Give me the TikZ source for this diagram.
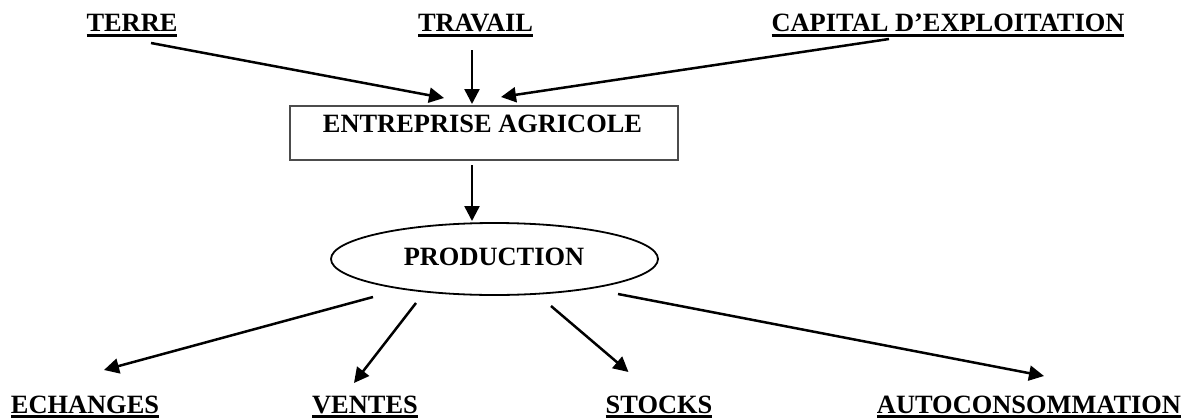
\documentclass[tikz,border=0pt]{standalone}
\usepackage{fontspec}
\setmainfont{Liberation Serif}
\usetikzlibrary{arrows.meta,shapes.geometric}
\newcommand\ulbox[1]{\sbox0{#1}\rlap{\rule[-4.8pt]{\wd0}{2.4pt}}\usebox0}
\begin{document}
\begin{tikzpicture}[x=1pt,y=-1pt,
  lbl/.style={inner sep=0pt, anchor=base, font=\bfseries\fontsize{26.4}{30}\selectfont},
  arr/.style={line width=2.5pt, -{Triangle[length=15pt,width=15pt]}},
  boxst/.style={draw=black!70, line width=2pt, minimum width=388pt, minimum height=54pt, inner sep=0pt},
  ellst/.style={ellipse, draw=black, line width=1.8pt, minimum width=327pt, minimum height=72pt, inner sep=0pt}
]
\useasboundingbox (0,0) rectangle (1195,418);
% top labels
\node[lbl] (terre) at (132,31.7) {\ulbox{TERRE}};
\node[lbl] (travail) at (475.5,31.7) {\ulbox{TRAVAIL}};
\node[lbl] (capital) at (948,31.7) {\ulbox{CAPITAL D’EXPLOITATION}};
% box
\node[boxst] (ent) at (484,133) {};
\node[lbl] (entT) at (482.5,132) {ENTREPRISE AGRICOLE};
% ellipse
\node[ellst] (prod) at (494.5,259) {};
\node[lbl] (prodT) at (494,265.6) {PRODUCTION};
% bottom labels
\node[lbl] (ech) at (85,413) {\ulbox{ECHANGES}};
\node[lbl] (ven) at (365,413) {\ulbox{VENTES}};
\node[lbl] (sto) at (659,413) {\ulbox{STOCKS}};
\node[lbl] (auto) at (1029,413) {\ulbox{AUTOCONSOMMATION}};
% connector ends
\coordinate (terreO) at (151,43);
\coordinate (entI1) at (444,98);
\coordinate (travO) at (472,50);
\coordinate (entI2) at (472,104);
\coordinate (capO) at (889,39);
\coordinate (entI3) at (501,97);
\coordinate (entO) at (472,165);
\coordinate (prodI) at (472,221);
\coordinate (prodO1) at (373,297);
\coordinate (echI) at (104,370);
\coordinate (prodO2) at (416,303);
\coordinate (venI) at (354,383);
\coordinate (prodO3) at (551,306);
\coordinate (stoI) at (628.5,372);
\coordinate (prodO4) at (618,294);
\coordinate (autoI) at (1044,376);
% connectors
\draw[arr] (terreO) -- (entI1);
\draw[arr] (travO) -- (entI2);
\draw[arr] (capO) -- (entI3);
\draw[arr] (entO) -- (prodI);
\draw[arr] (prodO1) -- (echI);
\draw[arr] (prodO2) -- (venI);
\draw[arr] (prodO3) -- (stoI);
\draw[arr] (prodO4) -- (autoI);
\end{tikzpicture}
\end{document}
